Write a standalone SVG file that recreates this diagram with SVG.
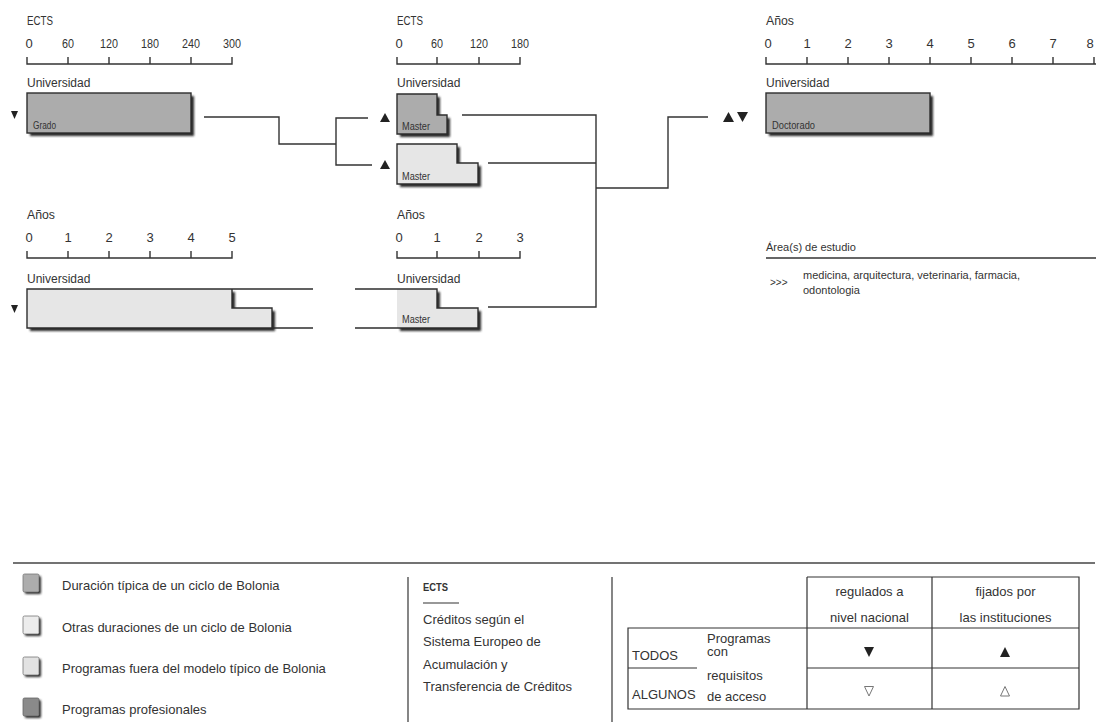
<svg xmlns="http://www.w3.org/2000/svg" width="1096" height="722" viewBox="0 0 1096 722">
<style>
text{font-family:"Liberation Sans",Arial,sans-serif;fill:#333}
.lab{font-size:12px}
.num{font-size:13px;text-anchor:middle}
.uni{font-size:12px}
.small{font-size:10px}
.leg{font-size:13px}
.mid{text-anchor:middle}
.ax{stroke:#333;stroke-width:1.4;fill:none}
.box{stroke:#2e2e2e;stroke-width:1.4}
.dark{fill:#acacac}
.light{fill:#e6e6e6}
.sh{fill:#2a2a2a;filter:url(#blur)}
.con{stroke:#333;stroke-width:1.4;fill:none}
.tri{fill:#222}
.otri{fill:none;stroke:#777;stroke-width:1}
.tb{stroke:#333;stroke-width:1.2;fill:none}
</style>
<defs>
<filter id="blur" x="-20%" y="-20%" width="140%" height="160%"><feGaussianBlur stdDeviation="0.9"/></filter>
</defs>
<rect width="1096" height="722" fill="#fff"/>

<!-- Axes -->
<g id="axis-ects-1">
<text class="lab" x="27" y="25" textLength="26" lengthAdjust="spacingAndGlyphs">ECTS</text>
<text class="num" x="29" y="48">0</text>
<text class="num" x="68" y="48" textLength="12" lengthAdjust="spacingAndGlyphs">60</text>
<text class="num" x="109" y="48" textLength="18" lengthAdjust="spacingAndGlyphs">120</text>
<text class="num" x="150" y="48" textLength="18" lengthAdjust="spacingAndGlyphs">180</text>
<text class="num" x="191" y="48" textLength="18" lengthAdjust="spacingAndGlyphs">240</text>
<text class="num" x="232" y="48" textLength="18" lengthAdjust="spacingAndGlyphs">300</text>
<path class="ax" d="M27,57V64H232V57M68,57V64M109,57V64M150,57V64M191,57V64"/>
</g>
<g id="axis-ects-2">
<text class="lab" x="397" y="25" textLength="26" lengthAdjust="spacingAndGlyphs">ECTS</text>
<text class="num" x="399" y="48">0</text>
<text class="num" x="437" y="48" textLength="12" lengthAdjust="spacingAndGlyphs">60</text>
<text class="num" x="479" y="48" textLength="18" lengthAdjust="spacingAndGlyphs">120</text>
<text class="num" x="520" y="48" textLength="18" lengthAdjust="spacingAndGlyphs">180</text>
<path class="ax" d="M397,57V64H520V57M437,57V64M479,57V64"/>
</g>
<g id="axis-anos-3">
<text class="lab" x="766" y="25" textLength="28" lengthAdjust="spacingAndGlyphs">Años</text>
<text class="num" x="768" y="48">0</text><text class="num" x="807" y="48">1</text><text class="num" x="848" y="48">2</text><text class="num" x="889" y="48">3</text><text class="num" x="930" y="48">4</text><text class="num" x="971" y="48">5</text><text class="num" x="1012" y="48">6</text><text class="num" x="1053" y="48">7</text><text class="num" x="1090" y="48">8</text>
<path class="ax" d="M766,57V64H1096M807,57V64M848,57V64M889,57V64M930,57V64M971,57V64M1012,57V64M1053,57V64M1094,57V64"/>
</g>
<g id="axis-anos-1">
<text class="lab" x="27" y="219" textLength="28" lengthAdjust="spacingAndGlyphs">Años</text>
<text class="num" x="29" y="242">0</text><text class="num" x="68" y="242">1</text><text class="num" x="109" y="242">2</text><text class="num" x="150" y="242">3</text><text class="num" x="191" y="242">4</text><text class="num" x="232" y="242">5</text>
<path class="ax" d="M27,251V258H232V251M68,251V258M109,251V258M150,251V258M191,251V258"/>
</g>
<g id="axis-anos-2">
<text class="lab" x="397" y="219" textLength="28" lengthAdjust="spacingAndGlyphs">Años</text>
<text class="num" x="399" y="242">0</text><text class="num" x="437" y="242">1</text><text class="num" x="479" y="242">2</text><text class="num" x="520" y="242">3</text>
<path class="ax" d="M397,251V258H520V251M437,251V258M479,251V258"/>
</g>

<!-- Nodes -->
<g id="grado">
<text class="uni" x="27" y="87">Universidad</text>
<rect class="sh" x="30" y="96" width="164" height="40"/>
<rect class="box dark" x="27" y="93" width="164" height="40"/>
<text class="small" x="33" y="129" textLength="23" lengthAdjust="spacingAndGlyphs">Grado</text>
<polygon class="tri" points="11,111 18,111 14.5,119"/>
</g>

<g id="master-1">
<text class="uni" x="397" y="87">Universidad</text>
<polygon class="sh" points="400,97 440,97 440,118 450,118 450,137 400,137"/>
<polygon class="box dark" points="397,94 437,94 437,115 447,115 447,134 397,134"/>
<text class="small" x="402" y="130" textLength="28" lengthAdjust="spacingAndGlyphs">Master</text>
<polygon class="tri" points="380,122 390,122 385,113"/>
</g>

<g id="master-2">
<polygon class="sh" points="400,147 460,147 460,166 481,166 481,187 400,187"/>
<polygon class="box light" points="397,144 457,144 457,163 478,163 478,184 397,184"/>
<text class="small" x="402" y="180" textLength="28" lengthAdjust="spacingAndGlyphs">Master</text>
<polygon class="tri" points="380,169 390,169 385,160"/>
</g>

<g id="doctorado">
<text class="uni" x="766" y="87">Universidad</text>
<rect class="sh" x="769" y="96" width="164" height="40"/>
<rect class="box dark" x="766" y="93" width="164" height="40"/>
<text class="small" x="772" y="129" textLength="43" lengthAdjust="spacingAndGlyphs">Doctorado</text>
<polygon class="tri" points="723,122 734,122 728.5,112"/>
<polygon class="tri" points="737,112 748,112 742.5,122"/>
</g>

<g id="programa-largo">
<text class="uni" x="27" y="283">Universidad</text>
<polygon class="sh" points="30,292 235,292 235,311 275,311 275,331 30,331"/>
<polygon class="light" points="27,289 232,289 232,308 272,308 272,328 27,328"/>
<path class="box" fill="none" d="M313,289H27V328H313M232,289V308H272V328"/>
<polygon class="tri" points="11,305 18,305 14.5,313"/>
</g>

<g id="master-3">
<text class="uni" x="397" y="283">Universidad</text>
<polygon class="sh" points="440,292 440,311 481,311 481,331 400,331 400,292"/>
<polygon class="light" points="397,289 437,289 437,308 478,308 478,328 397,328"/>
<path class="box" fill="none" d="M355,289H437V308H478V328H355"/>
<text class="small" x="402" y="323" textLength="28" lengthAdjust="spacingAndGlyphs">Master</text>
</g>

<g id="areas">
<text style="font-size:11px" x="766" y="251">Área(s) de estudio</text>
<line class="ax" x1="766" y1="258" x2="1096" y2="258"/>
<text style="font-size:10px" x="770" y="286">&gt;&gt;&gt;</text>
<text style="font-size:11px" x="803" y="279">medicina, arquitectura, veterinaria, farmacia,</text>
<text style="font-size:11px" x="803" y="294">odontologia</text>
</g>

<!-- Connectors -->
<g id="connectors">
<path class="con" d="M204,117H279V144H336"/>
<path class="con" d="M368,118H336V165H372"/>
<path class="con" d="M462,115H596V307H488"/>
<path class="con" d="M488,163H596"/>
<path class="con" d="M596,188H668V117H708"/>
</g>

<!-- Legend -->
<g id="legend">
<line x1="13" y1="563" x2="1095" y2="563" stroke="#444" stroke-width="1.5"/>
<line x1="408" y1="577" x2="408" y2="722" stroke="#444" stroke-width="1.3"/>
<line x1="612" y1="577" x2="612" y2="722" stroke="#444" stroke-width="1.3"/>

<g id="legend-tipica">
<rect class="sh" x="25" y="576" width="16" height="18" rx="1.5"/>
<rect x="23" y="574" width="16" height="18" rx="1.5" fill="#adadad" stroke="#777" stroke-width="0.8"/>
<text class="leg" x="62" y="590">Duración típica de un ciclo de Bolonia</text>
</g>
<g id="legend-otras">
<rect class="sh" x="25" y="618" width="16" height="18" rx="1.5"/>
<rect x="23" y="616" width="16" height="18" rx="1.5" fill="#ececec" stroke="#777" stroke-width="0.8"/>
<text class="leg" x="62" y="632">Otras duraciones de un ciclo de Bolonia</text>
</g>
<g id="legend-fuera">
<rect class="sh" x="25" y="659" width="16" height="18" rx="1.5"/>
<rect x="23" y="657" width="16" height="18" rx="1.5" fill="#e2e2e2" stroke="#777" stroke-width="0.8"/>
<text class="leg" x="62" y="673">Programas fuera del modelo típico de Bolonia</text>
</g>
<g id="legend-profesionales">
<rect class="sh" x="25" y="700" width="16" height="18" rx="1.5"/>
<rect x="23" y="698" width="16" height="18" rx="1.5" fill="#8a8a8a" stroke="#666" stroke-width="0.8"/>
<text class="leg" x="62" y="714">Programas profesionales</text>
</g>

<g id="legend-ects">
<text x="423" y="591" style="font-size:11px;font-weight:bold" textLength="25" lengthAdjust="spacingAndGlyphs">ECTS</text>
<line x1="423" y1="603" x2="459" y2="603" stroke="#333" stroke-width="1.2"/>
<text class="leg" x="423" y="624">Créditos según el</text>
<text class="leg" x="423" y="646">Sistema Europeo de</text>
<text class="leg" x="423" y="669">Acumulación y</text>
<text class="leg" x="423" y="691">Transferencia de Créditos</text>
</g>

<g id="legend-table">
<path class="tb" d="M807,577H1079V709H628V628H1079M807,577V709M932,577V709M628,668H697M807,668H1079"/>
<text class="leg mid" x="869.5" y="596">regulados a</text>
<text class="leg mid" x="869.5" y="622">nivel nacional</text>
<text class="leg mid" x="1005.5" y="596">fijados por</text>
<text class="leg mid" x="1005.5" y="622">las instituciones</text>
<text class="leg" x="632" y="660">TODOS</text>
<text class="leg" x="632" y="699">ALGUNOS</text>
<text class="leg" x="707" y="643">Programas</text>
<text class="leg" x="707" y="656">con</text>
<text class="leg" x="707" y="680">requisitos</text>
<text class="leg" x="707" y="701">de acceso</text>
<polygon class="tri" points="864,647 874,647 869,657"/>
<polygon class="tri" points="1000,657 1010,657 1005,647"/>
<polygon class="otri" points="864.5,686.5 873.5,686.5 869,696"/>
<polygon class="otri" points="1000.5,696 1009.5,696 1005,686.5"/>
</g>
</g>
</svg>
